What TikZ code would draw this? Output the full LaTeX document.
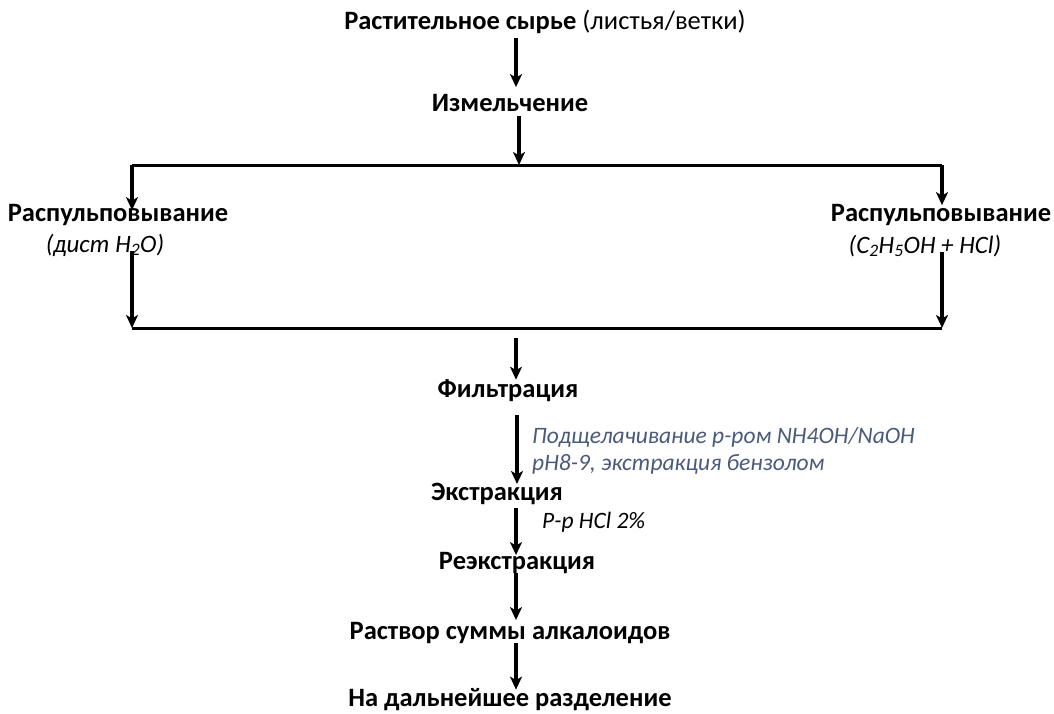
\documentclass[tikz,border=0pt]{standalone}
\usepackage{fontspec}
\setmainfont{Carlito}
\usetikzlibrary{arrows.meta,calc}
\definecolor{notecol}{RGB}{74,90,122}
\newcommand{\lowdig}[1]{\textsubscript{#1}}

\begin{document}
\begin{tikzpicture}[x=1pt,y=-1pt,
    stage/.style={font=\bfseries\fontsize{26.5}{30}\selectfont, inner sep=1pt},
    cond/.style={font=\itshape\fontsize{25}{30}\selectfont, inner sep=1pt},
    note/.style={font=\itshape\fontsize{23.5}{27}\selectfont, text=notecol, inner sep=1pt, align=left},
    arr/.style={line width=3.2pt, -{Stealth[length=13pt,width=12pt,inset=3.5pt]}},
    bar/.style={line width=3pt}]
    % Page frame (same size as the reference)
    \useasboundingbox (0,0) rectangle (1054,713);

    % x of the main vertical line, x of the two branches
    \def\trunk{516}
    \def\lx{132}
    \def\rx{942}

    % Main column of steps
    \node[stage] (raw)   at (545,22)  {Растительное сырье {\mdseries(листья/ветки)}};
    \node[stage] (mill)  at (510,103) {Измельчение};
    \node[stage] (filt)  at (508,391) {Фильтрация};
    \node[stage] (extr)  at (497,494) {Экстракция};
    \node[stage] (reext) at (517,563) {Реэкстракция};
    \node[stage] (sol)   at (510,633) {Раствор суммы алкалоидов};
    \node[stage] (next)  at (510,700) {На дальнейшее разделение};

    % The two pulping branches
    \node[stage] (pulpL)  at (118,215) {Распульповывание};
    \node[cond] (condL)  at (105,245) {(дист H\lowdig{2}O)};
    \node[stage] (pulpR)  at (941,215) {Распульповывание};
    \node[cond] (condR)  at (925,246) {(C\lowdig{2}H\lowdig{5}OH + HCl)};

    % Split and join bars
    \coordinate (splitL) at (\lx,165);
    \coordinate (splitR) at (\rx,165);
    \coordinate (joinL)  at (\lx,328);
    \coordinate (joinR)  at (\rx,328);
    \draw[bar] (splitL) -- (splitR);
    \draw[bar] (joinL) -- (joinR);

    % Arrows of the main column
    \draw[arr] (raw.south -| \trunk,0) ++(0,3) -- ($(mill.north -| \trunk,0)+(0,-6)$);
    \draw[arr] (mill.south -| 519,0) ++(0,3) -- (519,165);
    \draw[arr] (\trunk,338) -- ($(filt.north -| \trunk,0)+(0,1)$);
    \draw[arr] (filt.south -| 517,0) ++(0,12) -- ($(extr.north -| 517,0)+(0,2)$);
    \draw[arr] (extr.south -| \trunk,0) ++(0,2) -- ($(reext.north -| \trunk,0)+(0,4)$);
    \draw[arr] (reext.south -| \trunk,0) ++(0,-2) -- ($(sol.north -| \trunk,0)+(0,-1)$);
    \draw[arr] (sol.south -| \trunk,0) ++(0,-2) -- ($(next.north -| \trunk,0)+(0,2)$);

    % Arrows of the branches
    \draw[arr] (splitL) -- ($(pulpL.north -| splitL)+(0,7)$);
    \draw[arr] (splitR) -- ($(pulpR.north -| splitR)+(0,2)$);
    \draw[arr] (condL.south -| splitL) ++(0,-6) -- (joinL);
    \draw[arr] (condR.south -| splitR) ++(0,-6) -- (joinR);

    % Notes beside the arrows
    \node[note, anchor=west] (alkali) at (531,451)
        {Подщелачивание р-ром NH4OH/NaOH\\ pH8-9, экстракция бензолом};
    \node[cond, font=\itshape\fontsize{23.5}{27}\selectfont, anchor=west] (hcl) at (541,522) {Р-р HCl 2\%};
\end{tikzpicture}
\end{document}
